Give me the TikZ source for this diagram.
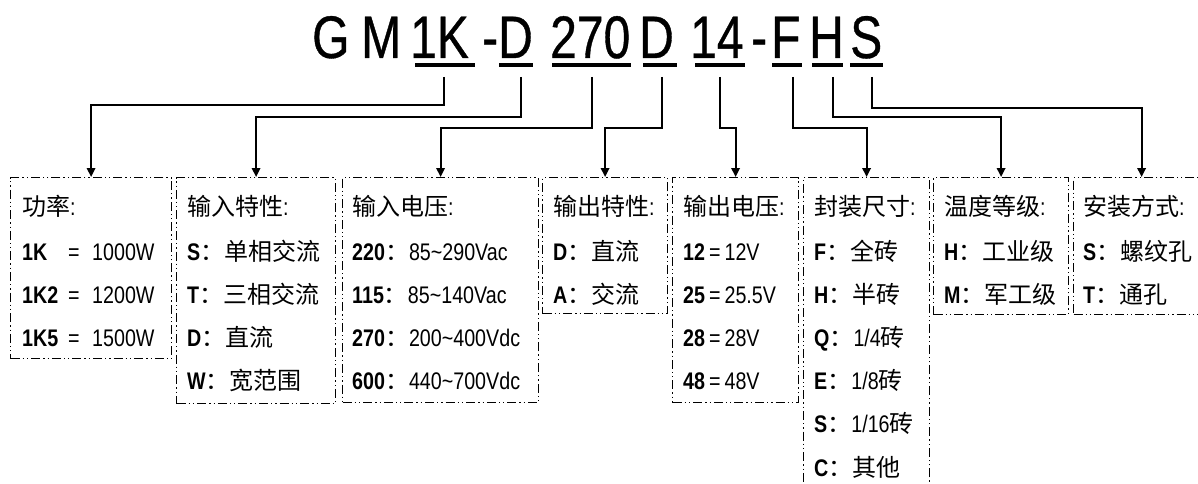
\documentclass[tikz,border=0pt]{standalone}
\usepackage{fontspec}
\setmainfont{Liberation Sans}[FakeStretch=0.82]
\newfontfamily\titlefont{Liberation Sans}[FakeStretch=0.8,FakeBold=0.6]
\newfontfamily\cjkfont{Noto Sans CJK SC}
\newcommand\zhs[1]{{\cjkfont #1}}
\newcommand\bk[1]{\textbf{#1}}
\usetikzlibrary{arrows.meta}
\begin{document}
\begin{tikzpicture}[x=1pt,y=-1pt,
  ttl/.style={inner sep=0pt, anchor=base west, font=\titlefont\fontsize{60}{60}\selectfont},
  row/.style={inner sep=0pt, anchor=base west, font=\fontsize{24}{24}\selectfont},
  ubar/.style={line width=3.5pt},
  conn/.style={line width=1.8pt, -{Triangle[length=9pt,width=8.5pt]}},
  boxstyle/.style={draw, line width=1.2pt, anchor=north west, inner sep=0pt,
    dash pattern=on 9pt off 3pt on 1.3pt off 3pt on 1.3pt off 3pt},
]
\useasboundingbox (0,0) rectangle (1198,484);
\fill[white] (0,0) rectangle (1198,484);
\clip (0,0) rectangle (1198,484);

% title
\node[ttl] (tG)   at (312,58) {G};
\node[ttl] (tM)   at (361,58) {M};
\node[ttl] (t1K)  at (410,58) {1K};
\node[ttl] (th1)  at (482,58) {-};
\node[ttl] (tD1)  at (498,58) {D};
\node[ttl] (t270) at (550,58) {270};
\node[ttl] (tD2)  at (639,58) {D};
\node[ttl] (t14)  at (690,58) {14};
\node[ttl] (th2)  at (751,58) {-};
\node[ttl] (tF)   at (771,58) {F};
\node[ttl] (tH)   at (809,58) {H};
\node[ttl] (tS)   at (850,58) {S};

% underlines
\draw[ubar] (415,65) -- (475,65);
\draw[ubar] (499,65) -- (533,65);
\draw[ubar] (552,65) -- (631,65);
\draw[ubar] (643,65) -- (677,65);
\draw[ubar] (695,65) -- (745,65);
\draw[ubar] (772,65) -- (802,65);
\draw[ubar] (812,65) -- (843,65);
\draw[ubar] (850,65) -- (883,65);

\coordinate (c1) at (444,77);
\coordinate (c2) at (521,77);
\coordinate (c3) at (592,77);
\coordinate (c4) at (662,77);
\coordinate (c5) at (720,77);
\coordinate (c6) at (793,77);
\coordinate (c7) at (833,77);
\coordinate (c8) at (872,77);

% boxes
\node[boxstyle, minimum width=161pt, minimum height=181pt] (b1) at (10,177) {};
\node[boxstyle, minimum width=159pt, minimum height=226pt] (b2) at (176,177) {};
\node[boxstyle, minimum width=196pt, minimum height=225pt] (b3) at (342,177) {};
\node[boxstyle, minimum width=125pt, minimum height=136pt] (b4) at (542,177) {};
\node[boxstyle, minimum width=126pt, minimum height=225pt] (b5) at (672,177) {};
\node[boxstyle, minimum width=126pt, minimum height=318pt] (b6) at (803,177) {};
\node[boxstyle, minimum width=135pt, minimum height=137pt] (b7) at (933,177) {};
\node[boxstyle, minimum width=136pt, minimum height=137pt] (b8) at (1073,177) {};

% connectors
\draw[conn] (c1) -- ++(0,28) -| (b1.north);
\draw[conn] (c2) -- ++(0,40) -| (b2.north);
\draw[conn] (c3) -- ++(0,51) -| (b3.north);
\draw[conn] (c4) -- ++(0,51) -| (b4.north);
\draw[conn] (c5) -- ++(0,51) -| (b5.north);
\draw[conn] (c6) -- ++(0,51) -| (b6.north);
\draw[conn] (c7) -- ++(0,40) -| (b7.north);
\draw[conn] (c8) -- ++(0,31) -| (b8.north);

% box 1
\node[row] (b1t) at (22,215) {\zhs{功率}:};
\node[row] (b1a) at (22,260) {\makebox[46pt][l]{\bk{1K}}\makebox[24pt][l]{=}1000W};
\node[row] (b1b) at (22,303) {\makebox[46pt][l]{\bk{1K2}}\makebox[24pt][l]{=}1200W};
\node[row] (b1c) at (22,346) {\makebox[46pt][l]{\bk{1K5}}\makebox[24pt][l]{=}1500W};

% box 2
\node[row] (b2t) at (187,215) {\zhs{输入特性}:};
\node[row] (b2a) at (187,260) {\bk{S}\zhs{：单相交流}};
\node[row] (b2b) at (187,303) {\bk{T}\zhs{：三相交流}};
\node[row] (b2c) at (187,346) {\bk{D}\zhs{：直流}};
\node[row] (b2d) at (187,389) {\bk{W}\zhs{：宽范围}};

% box 3
\node[row] (b3t) at (352,215) {\zhs{输入电压}:};
\node[row] (b3a) at (352,260) {\bk{220}\zhs{：}85\textasciitilde290Vac};
\node[row] (b3b) at (352,303) {\bk{115}\zhs{：}85\textasciitilde140Vac};
\node[row] (b3c) at (352,346) {\bk{270}\zhs{：}200\textasciitilde400Vdc};
\node[row] (b3d) at (352,389) {\bk{600}\zhs{：}440\textasciitilde700Vdc};

% box 4
\node[row] (b4t) at (553,215) {\zhs{输出特性}:};
\node[row] (b4a) at (553,260) {\bk{D}\zhs{：直流}};
\node[row] (b4b) at (553,303) {\bk{A}\zhs{：交流}};

% box 5
\node[row] (b5t) at (683,215) {\zhs{输出电压}:};
\node[row] (b5a) at (683,260) {\bk{12}\,=\,12V};
\node[row] (b5b) at (683,303) {\bk{25}\,=\,25.5V};
\node[row] (b5c) at (683,346) {\bk{28}\,=\,28V};
\node[row] (b5d) at (683,389) {\bk{48}\,=\,48V};

% box 6
\node[row] (b6t) at (814,215) {\zhs{封装尺寸}:};
\node[row] (b6a) at (814,260) {\bk{F}\zhs{：全砖}};
\node[row] (b6b) at (814,303) {\bk{H}\zhs{：半砖}};
\node[row] (b6c) at (814,346) {\bk{Q}\zhs{：}1/4\zhs{砖}};
\node[row] (b6d) at (814,389) {\bk{E}\zhs{：}1/8\zhs{砖}};
\node[row] (b6e) at (814,432) {\bk{S}\zhs{：}1/16\zhs{砖}};
\node[row] (b6f) at (814,476) {\bk{C}\zhs{：其他}};

% box 7
\node[row] (b7t) at (944,215) {\zhs{温度等级}:};
\node[row] (b7a) at (944,260) {\bk{H}\zhs{：工业级}};
\node[row] (b7b) at (944,303) {\bk{M}\zhs{：军工级}};

% box 8
\node[row] (b8t) at (1083,215) {\zhs{安装方式}:};
\node[row] (b8a) at (1083,260) {\bk{S}\zhs{：螺纹孔}};
\node[row] (b8b) at (1083,303) {\bk{T}\zhs{：通孔}};
\end{tikzpicture}
\end{document}
